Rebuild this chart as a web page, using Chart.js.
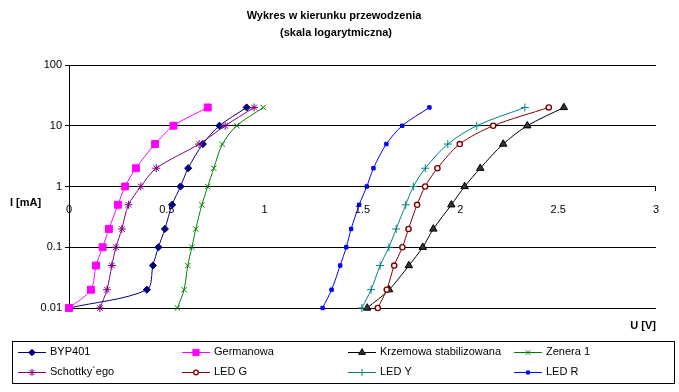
<!DOCTYPE html>
<html>
<head>
<meta charset="utf-8">
<title>Wykres w kierunku przewodzenia</title>
<script src="https://cdn.jsdelivr.net/npm/chart.js@4.4.1/dist/chart.umd.min.js"></script>
<style>
  body { margin: 0; background: #fff; }
  #wrap { width: 679px; height: 392px; }
</style>
</head>
<body>
<div id="wrap"><canvas id="myChart0" width="679" height="392"></canvas></div>
<script>
// prad [mA] - wspolny dla wszystkich serii
var currents = [0.01, 0.02, 0.05, 0.1, 0.2, 0.5, 1, 2, 5, 10, 20];

// napiecie [V] dla kazdej diody
var byp401     = [0, 0.398, 0.429, 0.457, 0.490, 0.527, 0.570, 0.609, 0.684, 0.769, 0.908];
var germanowa  = [0, 0.112, 0.138, 0.172, 0.204, 0.250, 0.287, 0.342, 0.440, 0.534, 0.709];
var krzemowa   = [1.524, 1.636, 1.737, 1.808, 1.862, 1.954, 2.022, 2.102, 2.219, 2.342, 2.529];
var zenera     = [0.554, 0.588, 0.607, 0.628, 0.648, 0.679, 0.709, 0.740, 0.784, 0.857, 0.993];
var schottky   = [0.158, 0.194, 0.219, 0.240, 0.270, 0.304, 0.367, 0.446, 0.665, 0.798, 0.946];
var ledG       = [1.578, 1.624, 1.662, 1.704, 1.735, 1.779, 1.820, 1.883, 1.997, 2.168, 2.452];
var ledY       = [1.497, 1.544, 1.590, 1.635, 1.672, 1.721, 1.760, 1.821, 1.936, 2.084, 2.330];
var ledR       = [1.296, 1.342, 1.386, 1.417, 1.442, 1.483, 1.522, 1.556, 1.622, 1.703, 1.842];

var names = ['BYP401', 'Germanowa', 'Krzemowa stabilizowana', 'Zenera 1',
             'Schottky\u00B4ego', 'LED G', 'LED Y', 'LED R'];
var yTicks = [0.01, 0.1, 1, 10, 100];
var xTicks = [0, 0.5, 1, 1.5, 2, 2.5, 3];

var series = [byp401, germanowa, krzemowa, zenera, schottky, ledG, ledY, ledR];
var styles = [
  { color: '#000080', fill: '#000080', point: 'rectRot',  r: 3.6 },
  { color: '#FF00FF', fill: '#FF00FF', point: 'rect',     r: 4.9 },
  { color: '#000000', fill: '#333333', point: 'triangle', r: 4.3 },
  { color: '#008000', fill: '#008000', point: 'crossRot', r: 3.8 },
  { color: '#800080', fill: '#800080', point: 'star',     r: 4 },
  { color: '#800000', fill: '#ffffff', point: 'circle',   r: 2.6 },
  { color: '#008080', fill: '#008080', point: 'cross',    r: 4 },
  { color: '#0000FF', fill: '#0000FF', point: 'rect',     r: 2.4 }
];

function pairs(volts) {
  var out = [];
  for (var i = 0; i < volts.length; i++) {
    out.push({ x: volts[i], y: currents[i] });
  }
  return out;
}

var datasets = [];
for (var i = 0; i < series.length; i++) {
  datasets.push({
    label: names[i],
    data: pairs(series[i]),
    borderColor: styles[i].color,
    backgroundColor: styles[i].fill,
    pointBorderColor: styles[i].color,
    pointBackgroundColor: styles[i].fill,
    pointStyle: styles[i].point,
    pointRadius: styles[i].r,
    pointBorderWidth: styles[i].point == 'circle' ? 1.4 : 1,
    borderWidth: 1,
    tension: 0.3,
    showLine: true,
    clip: false,
    order: series.length - i
  });
}

// tytul, opisy osi i legenda w ramce
var extras = {
  id: 'extras',
  afterDraw: function(chart) {
    var ctx = chart.ctx;
    ctx.save();
    ctx.fillStyle = '#000';
    ctx.textBaseline = 'middle';
    ctx.font = 'bold 11px "Liberation Sans", Arial, sans-serif';
    ctx.textAlign = 'center';
    ctx.fillText('Wykres w kierunku przewodzenia', 334, 16);
    ctx.fillText('(skala logarytmiczna)', 336, 33);
    ctx.textAlign = 'left';
    ctx.fillText('I [mA]', 10, 203);
    ctx.textAlign = 'right';
    ctx.fillText('U [V]', 656, 326);

    // kreska na koncu osi X
    ctx.strokeStyle = '#000';
    ctx.lineWidth = 1;
    ctx.beginPath();
    var xEnd = Math.round(chart.scales.x.right) - 0.5;
    var y1 = Math.round(chart.scales.y.getPixelForValue(1));
    ctx.moveTo(xEnd, y1);
    ctx.lineTo(xEnd, y1 + 4);
    ctx.stroke();

    ctx.strokeRect(12.5, 341.5, 662, 42);

    var colX = [18, 182, 348, 514];
    var rowY = [352, 372];
    ctx.font = '11px "Liberation Sans", Arial, sans-serif';
    ctx.textAlign = 'left';
    for (var i = 0; i < names.length; i++) {
      var x = colX[i % 4], y = rowY[Math.floor(i / 4)];
      var st = styles[i];
      ctx.strokeStyle = st.color;
      ctx.beginPath();
      ctx.moveTo(x, y + 0.5);
      ctx.lineTo(x + 28, y + 0.5);
      ctx.stroke();
      ctx.fillStyle = st.fill;
      ctx.lineWidth = st.point == 'circle' ? 1.4 : 1;
      Chart.helpers.drawPoint(ctx, { pointStyle: st.point, radius: st.r * 0.9, borderWidth: ctx.lineWidth, rotation: 0 }, x + 14, y + 0.5);
      ctx.lineWidth = 1;
      ctx.fillStyle = '#000';
      ctx.fillText(names[i], x + 32, y);
    }
    ctx.restore();
  }
};

var ctx = document.getElementById('myChart0').getContext('2d');
var chart = new Chart(ctx, {
  type: 'scatter',
  data: { datasets: datasets },
  options: {
    responsive: false,
    animation: false,
    layout: { padding: { left: 0, right: 23, top: 65, bottom: 84 } },
    plugins: {
      legend: { display: false },
      title: { display: false },
      tooltip: { enabled: false }
    },
    scales: {
      x: {
        type: 'linear',
        min: 0,
        max: 3,
        position: { y: 1 },
        afterBuildTicks: function(s) { s.ticks = xTicks.map(function(v) { return { value: v }; }); },
        grid: { display: false },
        border: { display: false },
        ticks: {
          color: '#000',
          padding: 9,
          maxRotation: 0,
          font: { family: '"Liberation Sans", Arial, sans-serif', size: 11 },
          callback: function(v) { return String(v); }
        }
      },
      y: {
        type: 'logarithmic',
        min: 0.01,
        max: 100,
        afterFit: function(s) { s.width = 69; },
        afterBuildTicks: function(s) { s.ticks = yTicks.map(function(v) { return { value: v }; }); },
        grid: { color: '#000', lineWidth: 1, tickLength: 4 },
        border: { color: '#000', width: 1 },
        ticks: {
          color: '#000',
          padding: 3,
          font: { family: '"Liberation Sans", Arial, sans-serif', size: 11 },
          callback: function(v) { return String(v); }
        }
      }
    }
  },
  plugins: [extras]
});
</script>
</body>
</html>
